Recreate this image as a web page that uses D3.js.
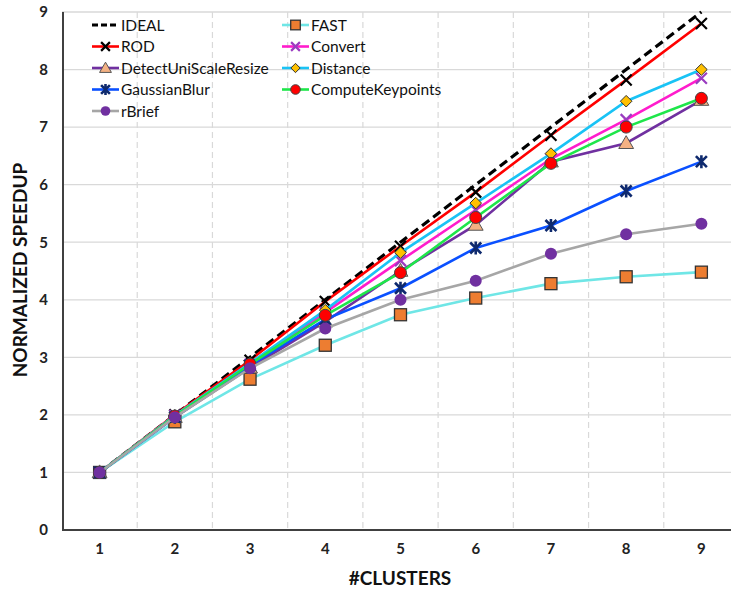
<!DOCTYPE html>
<html>
<head>
<meta charset="utf-8">
<title>Normalized speedup</title>
<script src="https://cdn.jsdelivr.net/npm/d3@7"></script>
<style>
  body { margin: 0; background: #fff; }
  text { font-family: Lato, "Open Sans", sans-serif; }
</style>
</head>
<body>
<script>
// data
var clusters = [1, 2, 3, 4, 5, 6, 7, 8, 9];
var yTicks = [0, 1, 2, 3, 4, 5, 6, 7, 8, 9];

var ideal     = [1, 2, 3, 4, 5, 6, 7, 8, 9];
var fast      = [1, 1.88, 2.62, 3.21, 3.74, 4.03, 4.28, 4.40, 4.48];
var rod       = [1, 2.00, 2.95, 3.97, 4.93, 5.87, 6.86, 7.82, 8.80];
var convert   = [1, 1.99, 2.88, 3.78, 4.68, 5.56, 6.45, 7.13, 7.85];
var detect    = [1, 1.96, 2.82, 3.62, 4.50, 5.30, 6.40, 6.72, 7.47];
var distance  = [1, 1.99, 2.90, 3.82, 4.82, 5.68, 6.54, 7.45, 8.00];
var gaussian  = [1, 1.96, 2.86, 3.66, 4.20, 4.90, 5.29, 5.89, 6.40];
var computeKp = [1, 1.98, 2.88, 3.73, 4.47, 5.43, 6.37, 7.00, 7.50];
var rbrief    = [1, 1.96, 2.81, 3.50, 4.00, 4.33, 4.80, 5.14, 5.32];

// series in legend order (row by row), later ones drawn on top
var series = [
  {name: "IDEAL", values: ideal, color: "#000000", marker: "none", dash: "9,5", width: 3.2},
  {name: "FAST", values: fast, color: "#6fe6e6", marker: "square", mfill: "#ed7d31"},
  {name: "ROD", values: rod, color: "#ff0000", marker: "x", mfill: "#000000"},
  {name: "Convert", values: convert, color: "#ff1ccc", marker: "x", mfill: "#9a3cc0"},
  {name: "DetectUniScaleResize", values: detect, color: "#7030a0", marker: "triangle", mfill: "#f4b183"},
  {name: "Distance", values: distance, color: "#19c3f5", marker: "diamond", mfill: "#ffc000"},
  {name: "GaussianBlur", values: gaussian, color: "#0a50ff", marker: "star", mfill: "#0f2a6e"},
  {name: "ComputeKeypoints", values: computeKp, color: "#1ee64a", marker: "circle", mfill: "#ff0000", outline: true},
  {name: "rBrief", values: rbrief, color: "#a6a6a6", marker: "circle", mfill: "#7030a0"}
];

var w = 731, h = 589;
var svg = d3.select("body").append("svg")
  .attr("width", w)
  .attr("height", h);

var x = d3.scaleBand().domain(clusters).range([62, 739]);
var y = d3.scaleLinear().domain([0, 9]).range([530, 12]);
var cx = function(d) { return x(d) + x.bandwidth() / 2; };

// horizontal gridlines
svg.append("g").selectAll("line")
  .data(yTicks.filter(function(d) { return d > 0; }))
  .enter().append("line")
  .attr("x1", 62).attr("x2", w)
  .attr("y1", function(d) { return y(d); })
  .attr("y2", function(d) { return y(d); })
  .attr("stroke", "#d9d9d9")
  .attr("stroke-width", 1.3);

// vertical dashed gridlines between categories
svg.append("g").selectAll("line")
  .data(clusters.slice(1))
  .enter().append("line")
  .attr("x1", function(d) { return x(d); })
  .attr("x2", function(d) { return x(d); })
  .attr("y1", 12).attr("y2", 530)
  .attr("stroke", "#d9d9d9")
  .attr("stroke-dasharray", "6,4")
  .attr("stroke-width", 1.2);

// axes (lines drawn by hand, labels via d3 axis)
var yAxis = svg.append("g")
  .attr("transform", "translate(62,0)")
  .call(d3.axisLeft(y).tickValues(yTicks).tickSize(0).tickPadding(14).tickFormat(d3.format("d")));
yAxis.select(".domain").remove();
yAxis.selectAll("text")
  .attr("font-size", "15px").attr("font-weight", "bold").attr("fill", "#222");

var xAxis = svg.append("g")
  .attr("transform", "translate(0,530)")
  .call(d3.axisBottom(x).tickSize(0).tickPadding(13));
xAxis.select(".domain").remove();
xAxis.selectAll("text")
  .attr("font-size", "15px").attr("font-weight", "bold").attr("fill", "#222");

svg.append("line")
  .attr("x1", 63).attr("x2", 63).attr("y1", 12).attr("y2", 531)
  .attr("stroke", "#404040").attr("stroke-width", 2);
svg.append("line")
  .attr("x1", 62).attr("x2", w).attr("y1", 530).attr("y2", 530)
  .attr("stroke", "#404040").attr("stroke-width", 2);

// axis titles
svg.append("text")
  .text("NORMALIZED SPEEDUP")
  .attr("transform", "translate(27,270) rotate(-90)")
  .attr("text-anchor", "middle")
  .attr("font-size", "19px").attr("font-weight", "bold").attr("fill", "#111");
svg.append("text")
  .text("#CLUSTERS")
  .attr("x", 400).attr("y", 585)
  .attr("text-anchor", "middle")
  .attr("font-size", "19px").attr("font-weight", "bold").attr("fill", "#111");

// marker drawing
function drawMarker(g, s, px, py, k) {
  k = k || 1;
  if (s.marker === "x") {
    var a = 5.5 * k;
    g.append("path")
      .attr("d", "M" + (px - a) + "," + (py - a) + "L" + (px + a) + "," + (py + a) +
                 "M" + (px - a) + "," + (py + a) + "L" + (px + a) + "," + (py - a))
      .attr("stroke", s.mfill).attr("stroke-width", 2.2).attr("fill", "none");
  } else if (s.marker === "star") {
    var b = 5.5 * k;
    g.append("path")
      .attr("d", "M" + (px - b) + "," + (py - b) + "L" + (px + b) + "," + (py + b) +
                 "M" + (px - b) + "," + (py + b) + "L" + (px + b) + "," + (py - b) +
                 "M" + px + "," + (py - b - 1) + "L" + px + "," + (py + b + 1))
      .attr("stroke", s.mfill).attr("stroke-width", 2.6).attr("fill", "none");
  } else if (s.marker === "square") {
    var c = 6 * k;
    g.append("rect")
      .attr("x", px - c).attr("y", py - c).attr("width", 2 * c).attr("height", 2 * c)
      .attr("fill", s.mfill).attr("stroke", "#333").attr("stroke-width", 1.3);
  } else if (s.marker === "circle") {
    g.append("circle")
      .attr("cx", px).attr("cy", py).attr("r", 6 * k)
      .attr("fill", s.mfill)
      .attr("stroke", s.outline ? "#444" : "none").attr("stroke-width", 1);
  } else if (s.marker === "triangle") {
    g.append("path")
      .attr("d", d3.symbol().type(d3.symbolTriangle).size(95 * k * k)())
      .attr("transform", "translate(" + px + "," + (py + 1) + ")")
      .attr("fill", s.mfill).attr("stroke", "#555").attr("stroke-width", 1);
  } else if (s.marker === "diamond") {
    var e = 5.8 * k;
    g.append("path")
      .attr("d", "M" + px + "," + (py - e) + "L" + (px + e) + "," + py +
                 "L" + px + "," + (py + e) + "L" + (px - e) + "," + py + "Z")
      .attr("fill", s.mfill).attr("stroke", "#333").attr("stroke-width", 1);
  }
}

var line = d3.line()
  .x(function(d, i) { return cx(clusters[i]); })
  .y(function(d) { return y(d); });

series.forEach(function(s) {
  var g = svg.append("g");
  g.append("path")
    .datum(s.values)
    .attr("d", line)
    .attr("fill", "none")
    .attr("stroke", s.color)
    .attr("stroke-width", s.width || 2.6)
    .attr("stroke-dasharray", s.dash || null);
  s.values.forEach(function(v, i) {
    drawMarker(g, s, cx(clusters[i]), y(v), 1);
  });
});

// legend, two columns filled row by row
var legend = svg.append("g");
series.forEach(function(s, i) {
  var col = i % 2, row = Math.floor(i / 2);
  var lx = col === 0 ? 92 : 282;
  var ly = 25 + row * 21.5;
  var g = legend.append("g");
  g.append("line")
    .attr("x1", lx).attr("x2", lx + 27)
    .attr("y1", ly).attr("y2", ly)
    .attr("stroke", s.color)
    .attr("stroke-width", s.width || 2.6)
    .attr("stroke-dasharray", s.dash ? "6,3" : null);
  drawMarker(g, s, lx + 13.5, ly, 0.8);
  g.append("text")
    .text(s.name)
    .attr("x", lx + 29).attr("y", ly + 5.5)
    .attr("font-size", "15.5px").attr("fill", "#111");
});
</script>
</body>
</html>
